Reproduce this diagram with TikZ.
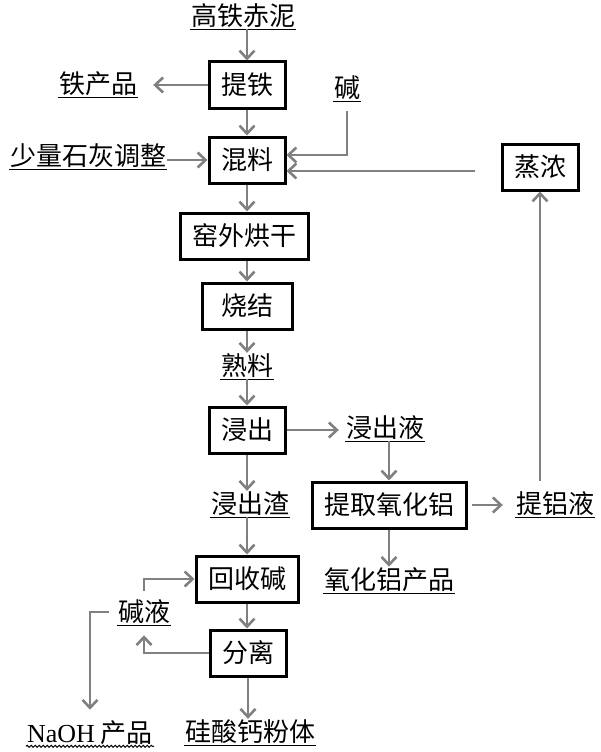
\documentclass[tikz,border=0pt]{standalone}
\usepackage{fontspec}
\setmainfont{Liberation Serif}
\newfontfamily\cjk{Noto Sans CJK SC}
\usetikzlibrary{arrows.meta, positioning, calc, decorations.pathmorphing}
\tikzset{
	proc/.style ={rectangle, draw=black, line width=3pt, inner xsep=12pt, minimum height=46pt, align=center},
	item/.style ={inner sep=1pt, align=center},
	flow/.style ={-{Straight Barb[length=8pt, width=15pt]}, draw=gray, line width=2.6pt},
	uline/.style={line width=1pt},
}
\begin{document}
\begin{tikzpicture}[x=1pt, y=-1pt, font=\cjk\fontsize{26}{26}\selectfont]
	\useasboundingbox (0,0) rectangle (600,752);
	% process boxes
	\node[proc] (tiTie) at (247,85) {提铁};
	\node[proc] (hunLiao) at (247,160) {混料};
	\node[proc] (zhengNong) at (540,167) {蒸浓};
	\node[proc] (yaoWai) at (244,236) {窑外烘干};
	\node[proc, minimum width=90pt] (shaoJie) at (247,306) {烧结};
	\node[proc] (jinChu) at (247,430) {浸出};
	\node[proc] (tiQu) at (389,505) {提取氧化铝};
	\node[proc] (huiShou) at (247,579) {回收碱};
	\node[proc] (fenLi) at (248,653) {分离};
	% materials and products
	\node[item] (src) at (243,16) {高铁赤泥};
	\node[item] (tieProd) at (98,84) {铁产品};
	\node[item] (lime) at (88,156) {少量石灰调整};
	\node[item] (jian) at (347,88) {碱};
	\node[item] (shuLiao) at (247,366) {熟料};
	\node[item] (jinYe) at (385,428) {浸出液};
	\node[item] (lvYe) at (555,504) {提铝液};
	\node[item] (alProd) at (389,580) {氧化铝产品};
	\node[item] (jinZha) at (250,504) {浸出渣};
	\node[item] (caSi) at (250,732) {硅酸钙粉体};
	\node[item] (jianYe) at (144,612) {碱液};
	\node[item] (naoh) at (90,733) {\textrm{NaOH} 产品};
	\foreach \n in {src,tieProd,lime,jian,shuLiao,jinYe,lvYe,alProd,jinZha,caSi,jianYe}
		\draw[uline] (\n.south west) -- (\n.south east);
	\draw[uline, decorate, decoration={snake, amplitude=1pt, segment length=4pt}] (naoh.south west) -- (naoh.south east);
	% flows
	\draw[flow] (tiTie.north |- src.south) -- (tiTie.north);
	\draw[flow, shorten >=15pt] (tiTie.west) -- (tiTie.west -| tieProd.east);
	\draw[flow] (tiTie.south) -- (hunLiao.north);
	\draw[flow] (lime.east |- hunLiao.west) -- (hunLiao.west);
	\draw[flow, shorten <=10pt] (jian.south) |- ([yshift=5pt]hunLiao.east);
	\draw[flow, shorten <=26pt] ([yshift=-4pt]zhengNong.west) -- ([yshift=-11pt]hunLiao.east);
	\draw[flow] ([yshift=10pt]zhengNong.south |- lvYe.north) -- (zhengNong.south);
	\draw[flow] (hunLiao.south) -- (hunLiao.south |- yaoWai.north);
	\draw[flow] (yaoWai.south -| shaoJie.north) -- (shaoJie.north);
	\draw[flow] (shaoJie.south) -- (shaoJie.south |- shuLiao.north);
	\draw[flow] (jinChu.north |- shuLiao.south) -- (jinChu.north);
	\draw[flow, shorten >=6pt] (jinChu.east) -- (jinChu.east -| jinYe.west);
	\draw[flow] (tiQu.north |- jinYe.south) -- (tiQu.north);
	\draw[flow, shorten <=4pt, shorten >=12pt] (tiQu.east) -- (tiQu.east -| lvYe.west);
	\draw[flow] (tiQu.south) -- (tiQu.south |- alProd.north);
	\draw[flow] (jinChu.south) -- (jinChu.south |- jinZha.north);
	\draw[flow] (huiShou.north |- jinZha.south) -- (huiShou.north);
	\draw[flow] (huiShou.south) -- (huiShou.south |- fenLi.north);
	\draw[flow] (fenLi.south) -- (fenLi.south |- caSi.north);
	\draw[flow, shorten >=10pt] (fenLi.west) -| (jianYe.south);
	\draw[flow, shorten <=8pt] (jianYe.north) |- (huiShou.west);
	\draw[flow, shorten <=8pt, shorten >=10pt] (jianYe.west) -| (naoh.north);
\end{tikzpicture}
\end{document}
